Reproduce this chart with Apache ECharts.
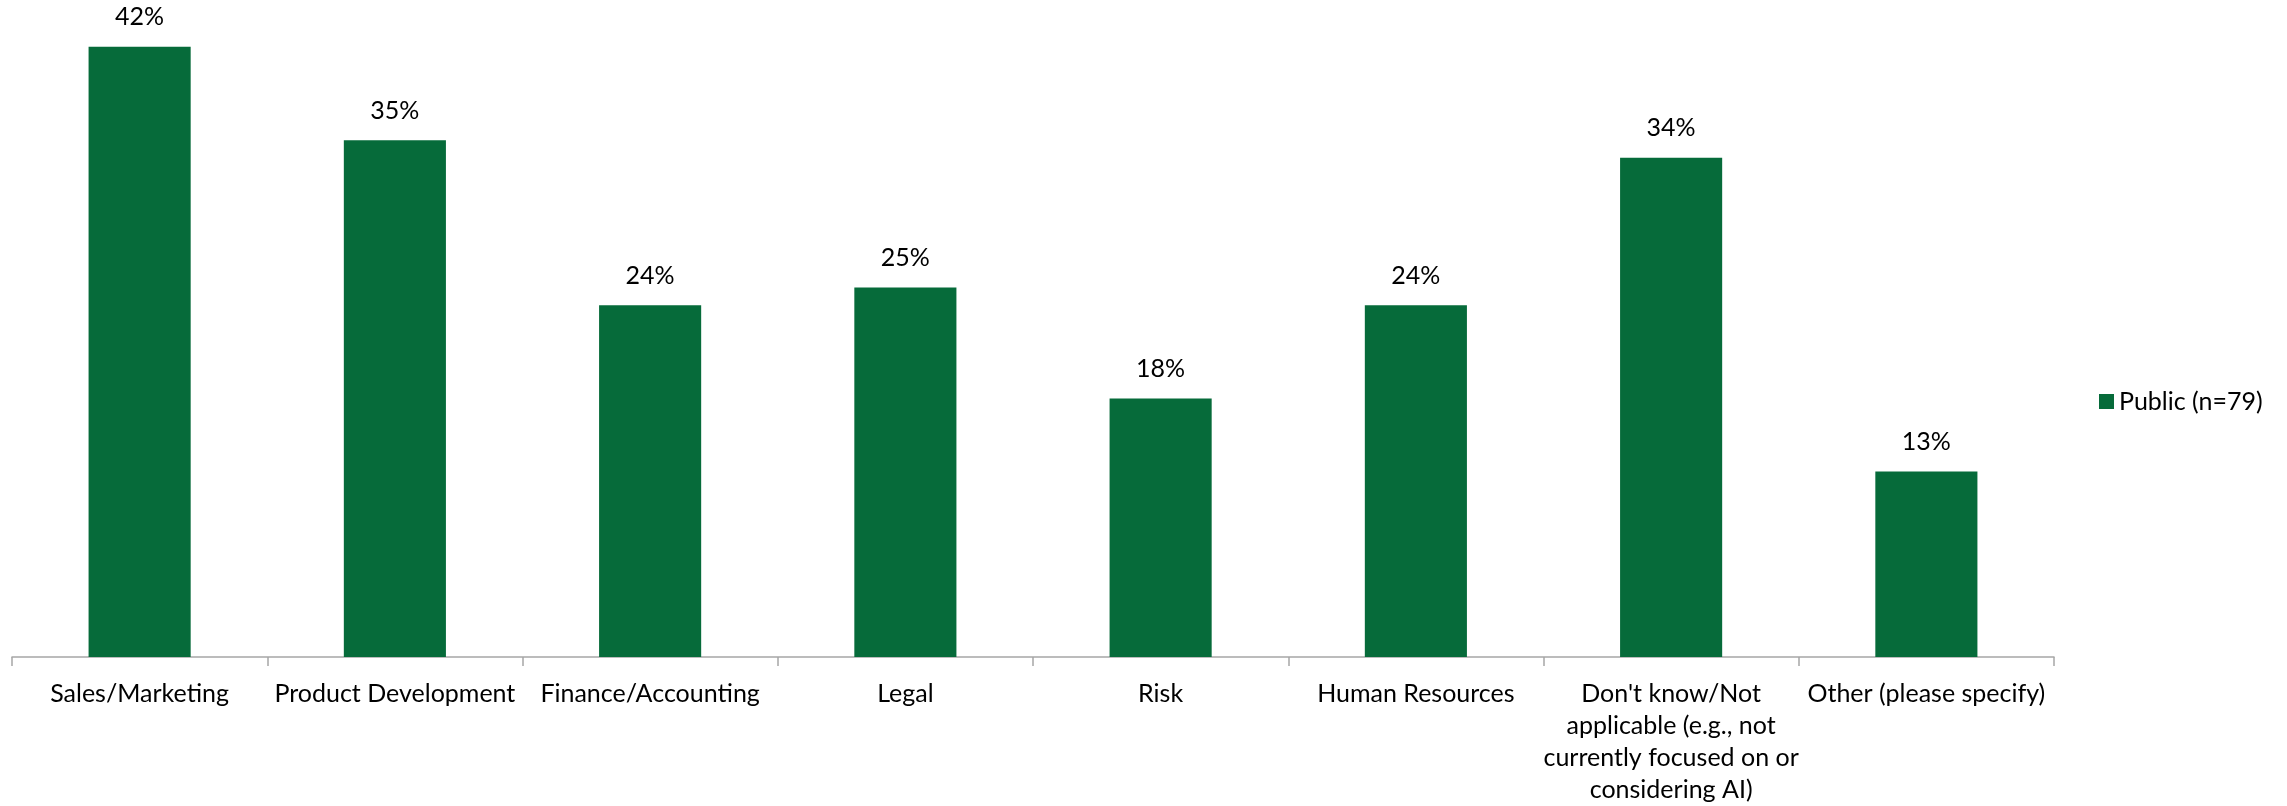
<!DOCTYPE html>
<html>
<head>
<meta charset="utf-8">
<script src="https://cdn.jsdelivr.net/npm/echarts@6/dist/echarts.min.js"></script>
<style>html,body{margin:0;padding:0;background:#fff}#c{width:2287px;height:806px}</style>
</head>
<body>
<div id="c"></div>
<script>
const categories = [
  "Sales/Marketing",
  "Product Development",
  "Finance/Accounting",
  "Legal",
  "Risk",
  "Human Resources",
  "Don't know/Not\napplicable (e.g., not\ncurrently focused on or\nconsidering AI)",
  "Other (please specify)"
];
const seriesName = "Public (n=79)";
const values = [41.8, 35.4, 24.1, 25.3, 17.7, 24.1, 34.2, 12.7];

const FONT = "Lato";
const chart = echarts.init(document.getElementById('c'));
chart.setOption({
  animation: false,
  textStyle: { fontFamily: FONT },
  grid: { left: 12, right: 233, top: -2, bottom: 144, containLabel: false },
  legend: {
    data: [seriesName],
    left: 2094, top: 384,
    icon: 'rect', itemWidth: 15, itemHeight: 15,
    textStyle: { fontFamily: FONT, fontSize: 25, color: '#000' }
  },
  xAxis: {
    type: 'category',
    data: categories,
    axisLine: { lineStyle: { color: '#A6A6A6', width: 1.5 } },
    axisTick: { show: true, length: 9, lineStyle: { color: '#A6A6A6', width: 1.5 } },
    axisLabel: { interval: 0, margin: 21, fontFamily: FONT, fontSize: 25, lineHeight: 32, color: '#000', align: 'center' }
  },
  yAxis: { type: 'value', min: 0, max: 45, show: false, splitLine: { show: false } },
  series: [{
    name: seriesName,
    type: 'bar',
    data: values,
    barWidth: '40%',
    itemStyle: { color: '#066B3A' },
    label: {
      show: true, position: 'top', distance: 17,
      fontFamily: FONT, fontSize: 25, color: '#000',
      formatter: p => Math.round(p.value) + '%'
    }
  }]
});
</script>
</body>
</html>
